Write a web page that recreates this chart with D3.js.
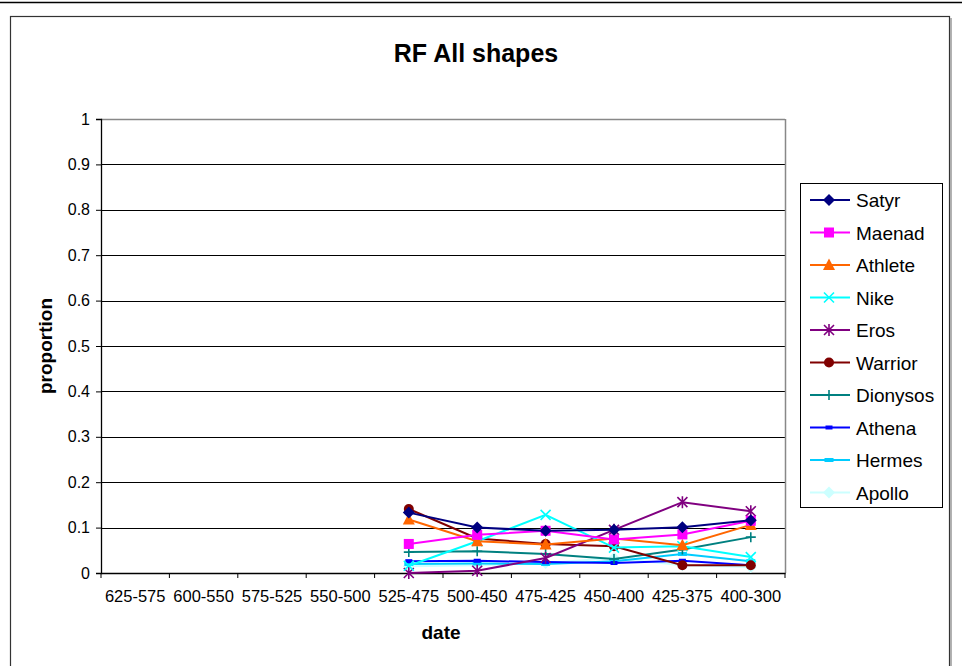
<!DOCTYPE html>
<html><head><meta charset="utf-8">
<script src="https://cdn.jsdelivr.net/npm/d3@7"></script>
<style>body{margin:0;background:#fff;} text{font-family:Arial,"Liberation Sans",sans-serif;}</style>
</head><body><svg id="c" width="962" height="666"></svg>
<script>
const categories = ["625-575","600-550","575-525","550-500","525-475","500-450","475-425","450-400","425-375","400-300"];
const yTicks = [0,0.1,0.2,0.3,0.4,0.5,0.6,0.7,0.8,0.9,1];
const seriesNames = ["Satyr","Maenad","Athlete","Nike","Eros","Warrior","Dionysos","Athena","Hermes","Apollo"];
const seriesColors = ["#000080","#FF00FF","#FF6600","#00FFFF","#800080","#800000","#008080","#0000FF","#00CCFF","#CCFFFF"];
const seriesMarkers = ["diamond","square","triangle","x","asterisk","circle","plus","dash","dash2","diamond"];
const N = null;
const Satyr    = [N,N,N,N,0.133,0.100,0.093,0.095,0.101,0.116];
const Maenad   = [N,N,N,N,0.064,0.084,0.093,0.074,0.085,0.115];
const Athlete  = [N,N,N,N,0.118,0.070,0.063,0.076,0.061,0.106];
const Nike     = [N,N,N,N,0.016,0.070,0.128,0.056,0.059,0.035];
const Eros     = [N,N,N,N,0.000,0.005,0.033,0.095,0.156,0.136];
const Warrior  = [N,N,N,N,0.141,0.076,0.064,0.059,0.017,0.017];
const Dionysos = [N,N,N,N,0.046,0.048,0.042,0.031,0.052,0.079];
const Athena   = [N,N,N,N,0.026,0.027,0.024,0.022,0.027,0.017];
const Hermes   = [N,N,N,N,0.020,0.021,0.020,0.026,0.042,0.026];
const Apollo   = [N,N,N,N,0.015,0.017,0.022,0.033,0.017,0.013];
const seriesValues = [Satyr,Maenad,Athlete,Nike,Eros,Warrior,Dionysos,Athena,Hermes,Apollo];

const svg = d3.select("#c");
// outer frame
svg.append("line").attr("x1",0).attr("x2",962).attr("y1",2.5).attr("y2",2.5).attr("stroke","#000").attr("stroke-width",1.5);
svg.append("rect").attr("x",10.5).attr("y",16.5).attr("width",939).attr("height",670).attr("fill","none").attr("stroke","#333").attr("stroke-width",1.2);
svg.append("line").attr("x1",951).attr("x2",951).attr("y1",18).attr("y2",666).attr("stroke","#999").attr("stroke-width",1.5);

const L=101, R=785, T=119, B=573;
const x = d3.scaleBand().domain(categories).range([L,R]);
const y = d3.scaleLinear().domain([0,1]).range([B,T]);

// gridlines
svg.append("g").selectAll("line").data(yTicks.filter(d=>d>0)).join("line")
  .attr("x1",L).attr("x2",R).attr("y1",d=>Math.round(y(d))+0.5).attr("y2",d=>Math.round(y(d))+0.5)
  .attr("stroke","#000").attr("stroke-width",1);
// plot border right/top
svg.append("line").attr("x1",R+0.5).attr("x2",R+0.5).attr("y1",T).attr("y2",B).attr("stroke","#888").attr("stroke-width",1.5);
svg.append("line").attr("x1",L).attr("x2",R).attr("y1",T+0.5).attr("y2",T+0.5).attr("stroke","#888").attr("stroke-width",1.5);

// axes
const yAxis = d3.axisLeft(y).tickValues(yTicks).tickSize(5).tickPadding(6).tickFormat(d=>d3.format("")(d));
const gy = svg.append("g").attr("transform",`translate(${L},0)`).call(yAxis);
gy.selectAll("text").attr("font-size",16).attr("fill","#000");
gy.select(".domain").attr("stroke","#000").attr("stroke-width",1.3);
gy.selectAll(".tick line").attr("stroke","#000");

const xAxis = d3.axisBottom(x).tickSize(0).tickPadding(17);
const gx = svg.append("g").attr("transform",`translate(0,${B})`).call(xAxis);
gx.select(".domain").attr("stroke","#000").attr("stroke-width",1.3);
gx.selectAll("text").attr("font-size",16.5).attr("fill","#000");
gx.selectAll(".bnd").data(categories.concat(["end"])).join("line").attr("class","bnd")
  .attr("x1",(d,i)=>i<categories.length?x(d):R).attr("x2",(d,i)=>i<categories.length?x(d):R)
  .attr("y1",0).attr("y2",5).attr("stroke","#000");

// titles
svg.append("text").attr("x",476).attr("y",62).attr("text-anchor","middle").attr("font-size",25).attr("font-weight","bold").text("RF All shapes");
svg.append("text").attr("x",441).attr("y",639).attr("text-anchor","middle").attr("font-size",19).attr("font-weight","bold").text("date");
svg.append("text").attr("transform","translate(52,346) rotate(-90)").attr("text-anchor","middle").attr("font-size",19).attr("font-weight","bold").text("proportion");

function drawMarker(g, type, color, cx, cy){
  const s = 5;
  if(type==="diamond"){
    g.append("path").attr("d",`M${cx},${cy-s-1}L${cx+s+1},${cy}L${cx},${cy+s+1}L${cx-s-1},${cy}Z`).attr("fill",color);
  } else if(type==="square"){
    g.append("rect").attr("x",cx-s).attr("y",cy-s).attr("width",2*s).attr("height",2*s).attr("fill",color);
  } else if(type==="triangle"){
    g.append("path").attr("d",`M${cx},${cy-s-1.5}L${cx+s+1},${cy+s}L${cx-s-1},${cy+s}Z`).attr("fill",color);
  } else if(type==="circle"){
    g.append("circle").attr("cx",cx).attr("cy",cy).attr("r",s).attr("fill",color);
  } else if(type==="x"){
    g.append("path").attr("d",`M${cx-s},${cy-s}L${cx+s},${cy+s}M${cx-s},${cy+s}L${cx+s},${cy-s}`).attr("stroke",color).attr("stroke-width",1.6);
  } else if(type==="asterisk"){
    g.append("path").attr("d",`M${cx-s},${cy-s}L${cx+s},${cy+s}M${cx-s},${cy+s}L${cx+s},${cy-s}M${cx},${cy-s-1}L${cx},${cy+s+1}`).attr("stroke",color).attr("stroke-width",1.6);
  } else if(type==="plus"){
    g.append("path").attr("d",`M${cx-s},${cy}L${cx+s},${cy}M${cx},${cy-s}L${cx},${cy+s}`).attr("stroke",color).attr("stroke-width",1.6);
  } else if(type==="dash"){
    g.append("rect").attr("x",cx-3.5).attr("y",cy-2).attr("width",7).attr("height",4).attr("fill",color);
  } else if(type==="dash2"){
    g.append("rect").attr("x",cx-4.5).attr("y",cy-2).attr("width",9).attr("height",4).attr("fill",color);
  }
}

const line = d3.line().defined(d=>d.v!==null).x(d=>x(d.c)+x.bandwidth()/2).y(d=>y(d.v));
const order = [9,8,7,6,5,4,3,2,1,0];
order.forEach(i=>{
  const data = categories.map((c,j)=>({c:c,v:seriesValues[i][j]}));
  const g = svg.append("g");
  g.append("path").datum(data).attr("d",line).attr("fill","none").attr("stroke",seriesColors[i]).attr("stroke-width",2);
  data.filter(d=>d.v!==null).forEach(d=>drawMarker(g,seriesMarkers[i],seriesColors[i],x(d.c)+x.bandwidth()/2,y(d.v)));
});

// legend
const lg = svg.append("g");
lg.append("rect").attr("x",800.5).attr("y",183.5).attr("width",142).attr("height",324).attr("fill","#fff").attr("stroke","#000").attr("stroke-width",1);
seriesNames.forEach((n,i)=>{
  const yy = 200 + i*32.5;
  lg.append("line").attr("x1",810).attr("x2",850).attr("y1",yy).attr("y2",yy).attr("stroke",seriesColors[i]).attr("stroke-width",2);
  drawMarker(lg, seriesMarkers[i], seriesColors[i], 829, yy);
  lg.append("text").attr("x",856).attr("y",yy+7).attr("font-size",19).attr("fill","#000").text(n);
});
</script></body></html>
